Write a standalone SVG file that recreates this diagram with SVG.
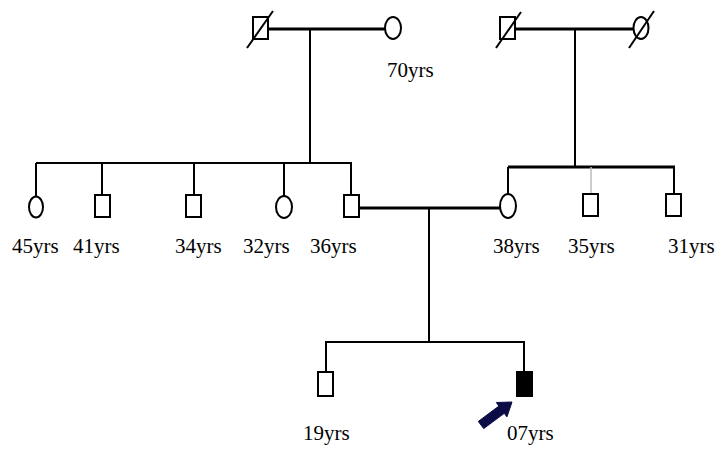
<svg xmlns="http://www.w3.org/2000/svg" width="715" height="455" viewBox="0 0 715 455">
<style>
.sym{fill:#fff;stroke:#000;stroke-width:2}
.aff{fill:#000;stroke:#000;stroke-width:2}
.ln{stroke:#000;stroke-width:2;fill:none}
.cp{stroke:#000;stroke-width:3.2;fill:none}
.dx{stroke:#000;stroke-width:2}
.lb{font-family:"Liberation Serif","Times New Roman",serif;font-size:21px;fill:#000}
</style>
<rect width="715" height="455" fill="#fff"/>
<g id="connectors">
<line class="cp" x1="268" y1="29" x2="385" y2="29"/>
<line class="ln" x1="310" y1="29" x2="310" y2="163"/>
<line class="ln" x1="36" y1="163" x2="352" y2="163"/>
<line class="ln" x1="36" y1="163" x2="36" y2="197"/>
<line class="ln" x1="102" y1="163" x2="102" y2="195"/>
<line class="ln" x1="194" y1="163" x2="194" y2="195"/>
<line class="ln" x1="284" y1="163" x2="284" y2="196"/>
<line class="ln" x1="351" y1="163" x2="351" y2="195"/>
<line class="cp" x1="516" y1="29" x2="633" y2="29"/>
<line class="ln" x1="575" y1="29" x2="575" y2="167"/>
<line class="cp" x1="508" y1="167" x2="675" y2="167"/>
<line class="ln" x1="508" y1="167" x2="508" y2="194"/>
<line stroke="#bbb" stroke-width="1.5" x1="591" y1="167" x2="591" y2="193"/>
<line class="ln" x1="674" y1="167" x2="674" y2="193"/>
<line class="cp" x1="359" y1="208" x2="500" y2="208"/>
<line class="ln" x1="429" y1="208" x2="429" y2="342"/>
<line class="ln" x1="325" y1="342" x2="525" y2="342"/>
<line class="ln" x1="326" y1="342" x2="326" y2="372"/>
<line class="ln" x1="524" y1="342" x2="524" y2="372"/>
</g>
<g id="gf1"><rect class="sym" x="253" y="17" width="15" height="22"/><line class="dx" x1="247" y1="48" x2="273" y2="11"/></g>
<g id="gm1"><ellipse class="sym" cx="393" cy="28" rx="8" ry="11"/><text class="lb" x="387" y="77">70yrs</text></g>
<g id="gf2"><rect class="sym" x="500" y="17" width="15" height="22"/><line class="dx" x1="496" y1="48" x2="521" y2="12"/></g>
<g id="gm2"><ellipse class="sym" cx="641" cy="28" rx="7.5" ry="11"/><line class="dx" x1="629" y1="48" x2="654" y2="11"/></g>
<g id="a45"><ellipse class="sym" cx="36" cy="207" rx="7" ry="10.5"/><text class="lb" x="12" y="253">45yrs</text></g>
<g id="a41"><rect class="sym" x="95" y="195" width="15" height="22"/><text class="lb" x="73" y="253">41yrs</text></g>
<g id="a34"><rect class="sym" x="186" y="195" width="15" height="22"/><text class="lb" x="175" y="253">34yrs</text></g>
<g id="a32"><ellipse class="sym" cx="284" cy="207" rx="8" ry="11"/><text class="lb" x="243" y="253">32yrs</text></g>
<g id="father"><rect class="sym" x="344" y="195" width="15" height="22"/><text class="lb" x="310" y="253">36yrs</text></g>
<g id="mother"><ellipse class="sym" cx="508" cy="206" rx="8" ry="12"/><text class="lb" x="493" y="253">38yrs</text></g>
<g id="u35"><rect class="sym" x="583" y="194" width="15" height="22"/><text class="lb" x="568" y="253">35yrs</text></g>
<g id="u31"><rect class="sym" x="666" y="194" width="15" height="22"/><text class="lb" x="668" y="253">31yrs</text></g>
<g id="sib19"><rect class="sym" x="318" y="372" width="15" height="24"/><text class="lb" x="303" y="440">19yrs</text></g>
<g id="proband"><rect class="aff" x="517" y="372" width="15" height="24"/><polygon fill="#0b0b45" stroke="#0b0b45" stroke-width="1" stroke-linejoin="round" points="478.3,421.4 498.9,406.1 496.3,402.5 512,402 506.9,416.9 504.3,413.3 483.7,428.6"/><text class="lb" x="507" y="440">07yrs</text></g>
</svg>
